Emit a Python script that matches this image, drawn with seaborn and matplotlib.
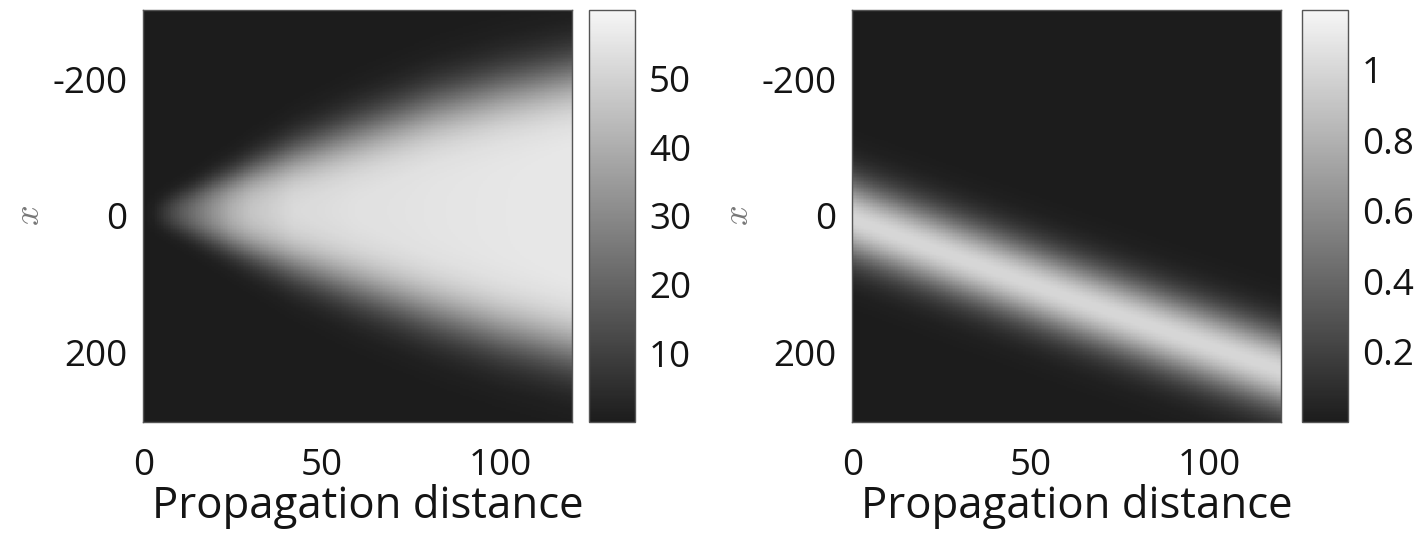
import numpy as np
import pandas as pd
import matplotlib
matplotlib.use("Agg")
import matplotlib.pyplot as plt
from matplotlib.colors import LinearSegmentedColormap
from math import erf
import seaborn as sns

# ---------------- data ----------------
# Left panel: spreading cone (values read at these propagation distances)
cone_z = [0, 3, 5, 10, 14, 20, 25, 30, 42, 60, 82, 100, 120]
cone_peak = [0, 2, 6, 16, 23, 33, 41, 46, 52, 54, 55, 55.5, 56]
cone_halfwidth = [14, 16, 18, 25, 31, 41, 49, 58, 80, 112, 150, 176, 200]
cone_edge = [14, 15, 16, 19, 22, 27, 31, 35, 44, 52, 57, 59, 60]
cone_center = [-4, -4, -4, -5, -5, -6, -6, -7, -8, -8, -8, -6, -4]

# Right panel: drifting beam
beam_z = [0, 30, 60, 90, 120]
beam_center = [5, 62, 118, 172, 225]
beam_sigma = [40, 40, 40, 40, 40]
beam_peak = [1.0, 1.0, 1.0, 1.0, 1.0]

z_grid = np.linspace(0, 120, 241)
x_grid = np.linspace(-300, 300, 301)

x_ticks = [0, 50, 100]
y_ticks = [-200, 0, 200]
y_ticklabels = ["-200", "0", "200"]
cbar_left_ticks = [10, 20, 30, 40, 50]
cbar_right_ticks = [0.2, 0.4, 0.6, 0.8, 1.0]
cbar_right_labels = ["0.2", "0.4", "0.6", "0.8", "1"]
left_range = (0, 60)
right_range = (0, 1.17)

# ---------------- build fields ----------------
verf = np.vectorize(erf)
Z, X = np.meshgrid(z_grid, x_grid)  # rows = x, cols = z

pk = np.interp(z_grid, cone_z, cone_peak)
hw = np.interp(z_grid, cone_z, cone_halfwidth)
ed = np.interp(z_grid, cone_z, cone_edge)
cc = np.interp(z_grid, cone_z, cone_center)
d = X - cc[None, :]
prof = 0.5 * (verf((hw[None, :] - d) / ed[None, :]) + verf((hw[None, :] + d) / ed[None, :]))
norm = verf(hw / ed)
left_field = pk[None, :] * prof / norm[None, :]

bc = np.interp(z_grid, beam_z, beam_center)
bs = np.interp(z_grid, beam_z, beam_sigma)
bp = np.interp(z_grid, beam_z, beam_peak)
right_field = bp[None, :] * np.exp(-0.5 * ((X - bc[None, :]) / bs[None, :]) ** 2)

left_df = pd.DataFrame(left_field, index=x_grid, columns=z_grid)
right_df = pd.DataFrame(right_field, index=x_grid, columns=z_grid)

# ---------------- style ----------------
sns.set_style("white")
plt.rcParams["font.family"] = ["Open Sans", "DejaVu Sans"]
plt.rcParams["mathtext.fontset"] = "cm"

cmap = LinearSegmentedColormap.from_list("mgray", ["#1c1c1c", "#f6f6f6"])
text_col = "#141414"
edge_col = "#555555"

fig = plt.figure(figsize=(14.17, 5.5), dpi=100)

ax_h = 412 / 550
ax_b = 1 - 422 / 550
panels = [
    (left_df, 143, 589, left_range, cbar_left_ticks, [str(t) for t in cbar_left_ticks]),
    (right_df, 852, 1302, right_range, cbar_right_ticks, cbar_right_labels),
]

dz = z_grid[1] - z_grid[0]
dx = x_grid[1] - x_grid[0]

for df, axl, cbl, rng, cticks, clabels in panels:
    ax = fig.add_axes([axl / 1417, ax_b, 429 / 1417, ax_h])
    cax = fig.add_axes([cbl / 1417, ax_b, 46 / 1417, ax_h])
    sns.heatmap(df, ax=ax, cbar_ax=cax, cmap=cmap, vmin=rng[0], vmax=rng[1],
                xticklabels=False, yticklabels=False, linewidths=0, rasterized=True)
    ax.set_xticks([(v - z_grid[0]) / dz + 0.5 for v in x_ticks])
    ax.set_xticklabels([str(v) for v in x_ticks])
    ax.set_yticks([(v - x_grid[0]) / dx + 0.5 for v in y_ticks])
    ax.set_yticklabels(y_ticklabels, rotation=0)
    for s in ax.spines.values():
        s.set_visible(True)
        s.set_color(edge_col)
        s.set_linewidth(1.0)
    ax.tick_params(axis="both", direction="in", length=5, width=1, color="#666666",
                   labelsize=26.5, labelcolor=text_col, top=True, right=True,
                   bottom=True, left=True)
    ax.tick_params(axis="x", pad=19)
    ax.tick_params(axis="y", pad=11)
    ax.set_xlabel("Propagation distance", fontsize=31.5, color=text_col, labelpad=0)
    ax.xaxis.label.set_x(0.5 + 10 / 429)
    ax.set_ylabel("$x$", fontsize=26, color="#777777", labelpad=3)

    cb = ax.collections[0].colorbar
    cb.set_ticks(cticks)
    cb.set_ticklabels(clabels)
    cb.outline.set_visible(True)
    cb.outline.set_linewidth(1.0)
    cb.outline.set_edgecolor(edge_col)
    cax.tick_params(direction="in", length=4, width=1, color="#555555",
                    labelsize=26.5, labelcolor=text_col, pad=10)

fig.savefig("out.png", dpi=100)
